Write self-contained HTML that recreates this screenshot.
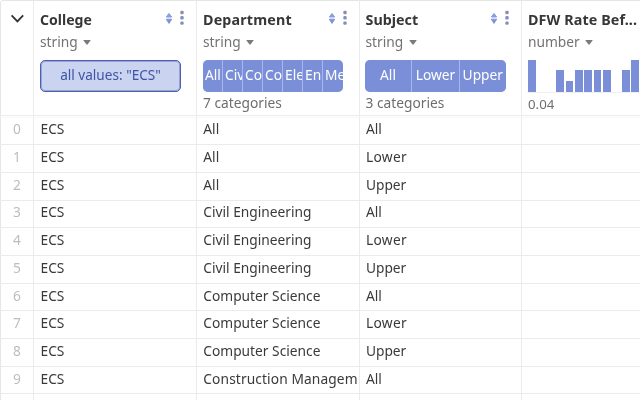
<!DOCTYPE html>
<html><head><meta charset="utf-8"><style>
*{box-sizing:border-box}
html,body{margin:0;padding:0;background:#fff}
#w{will-change:transform;position:relative;width:640px;height:400px;overflow:hidden;font-family:"Noto Sans","Liberation Sans",sans-serif;font-size:13.75px;color:#3a3a3a}
.a{position:absolute;white-space:nowrap}
.hl{position:absolute;left:0;width:640px;height:1px;background:#ebebeb}
.vl{position:absolute;top:0;width:1px;height:400px;background:#ebebeb}
.t{font-weight:700;font-size:14.3px;color:#373737;line-height:20px}
.ty{color:#727272;line-height:20px}
.ty i{display:inline-block;width:0;height:0;border-left:4.1px solid transparent;border-right:4.1px solid transparent;border-top:5px solid #7a7a7a;margin-left:5.4px;vertical-align:2.4px;border-radius:1px}
.pill{position:absolute;top:60px;height:31.6px;border:1px solid #4c5fb0;box-shadow:inset 0 0 0 1px rgba(76,95,176,0.4);background:#cad3ef;border-radius:5px;color:#3f54a8;text-align:center;line-height:27.4px;font-size:13.6px}
.bars{position:absolute;top:60px;height:31.6px;border-radius:5px;overflow:hidden;display:flex;background:#a9b7ec}
.bars div{background:#7b8fd8;color:#fff;height:100%;line-height:30.6px;text-align:center;overflow:hidden;white-space:nowrap;margin-right:1px;padding:0 2px}
.bars div:last-child{margin-right:0}
.cat{color:#6e6e6e;line-height:20px;margin-top:0.3px}
.ix{position:absolute;left:0;width:34px;text-align:center;color:#bdbdbd;line-height:20px}
.c{position:absolute;line-height:20px;white-space:nowrap;overflow:hidden}
.hb{position:absolute;background:#7b8fd8;width:7.6px}
</style></head><body><div id="w">

<!-- outer border -->
<div style="position:absolute;left:0;top:0;width:700px;height:460px;border:1px solid #e6e6e6;border-top-left-radius:3px"></div>

<!-- column lines -->
<div class="vl" style="left:33px"></div>
<div class="vl" style="left:196px"></div>
<div class="vl" style="left:359px"></div>
<div class="vl" style="left:521px"></div>

<!-- header bottom + row lines -->
<div class="hl" style="top:115px"></div>
<div class="hl" style="top:117px;background:#f7f7f7"></div>
<div class="hl" style="top:144px"></div>
<div class="hl" style="top:172px"></div>
<div class="hl" style="top:200px"></div>
<div class="hl" style="top:227px"></div>
<div class="hl" style="top:255px"></div>
<div class="hl" style="top:283px"></div>
<div class="hl" style="top:310px"></div>
<div class="hl" style="top:338px"></div>
<div class="hl" style="top:366px"></div>
<div class="hl" style="top:393px"></div>

<!-- chevron -->
<svg class="a" style="left:0;top:0" width="34" height="40"><polyline points="11.6,15.4 17.4,21.4 23.2,15.4" fill="none" stroke="#333" stroke-width="1.8"/></svg>

<!-- College header -->
<div class="a t" style="left:40px;top:10px;font-size:14.05px">College</div>
<svg class="a" style="left:160px;top:8px" width="30" height="20">
<path d="M6.3 9 L9 5.4 L11.7 9Z" fill="#889de0" stroke="#889de0" stroke-width="1" stroke-linejoin="round"/><path d="M6.3 11.2 L9 15.4 L11.7 11.2Z" fill="#7f94d8" stroke="#7f94d8" stroke-width="1" stroke-linejoin="round"/>
<rect x="20.3" y="2.8" width="3.4" height="3.4" rx="1.3" fill="#878fab"/><rect x="20.3" y="8.1" width="3.4" height="3.4" rx="1.3" fill="#8090c0"/><rect x="20.3" y="13.4" width="3.4" height="3.4" rx="1.3" fill="#878fab"/>
</svg>
<div class="a ty" style="left:40px;top:32px">string<i></i></div>
<div class="pill" style="left:40px;width:141px">all values: "ECS"</div>

<!-- Department header -->
<div class="a t" style="left:203px;top:10px;letter-spacing:0.17px">Department</div>
<svg class="a" style="left:322.6px;top:8px" width="30" height="20">
<path d="M6.3 9 L9 5.4 L11.7 9Z" fill="#889de0" stroke="#889de0" stroke-width="1" stroke-linejoin="round"/><path d="M6.3 11.2 L9 15.4 L11.7 11.2Z" fill="#7f94d8" stroke="#7f94d8" stroke-width="1" stroke-linejoin="round"/>
<rect x="20.3" y="2.8" width="3.4" height="3.4" rx="1.3" fill="#878fab"/><rect x="20.3" y="8.1" width="3.4" height="3.4" rx="1.3" fill="#8090c0"/><rect x="20.3" y="13.4" width="3.4" height="3.4" rx="1.3" fill="#878fab"/>
</svg>
<div class="a ty" style="left:203px;top:32px">string<i></i></div>
<div class="bars" style="left:203px;width:140px">
<div style="width:19px">All</div><div style="width:19px">Civ</div><div style="width:19px">Co</div><div style="width:19px">Co</div><div style="width:19px">Ele</div><div style="width:19px">En</div><div style="width:20px">Me</div>
</div>
<div class="a cat" style="left:203px;top:93px">7 categories</div>

<!-- Subject header -->
<div class="a t" style="left:365.5px;top:10px">Subject</div>
<svg class="a" style="left:485.2px;top:8px" width="30" height="20">
<path d="M6.3 9 L9 5.4 L11.7 9Z" fill="#889de0" stroke="#889de0" stroke-width="1" stroke-linejoin="round"/><path d="M6.3 11.2 L9 15.4 L11.7 11.2Z" fill="#7f94d8" stroke="#7f94d8" stroke-width="1" stroke-linejoin="round"/>
<rect x="20.3" y="2.8" width="3.4" height="3.4" rx="1.3" fill="#878fab"/><rect x="20.3" y="8.1" width="3.4" height="3.4" rx="1.3" fill="#8090c0"/><rect x="20.3" y="13.4" width="3.4" height="3.4" rx="1.3" fill="#878fab"/>
</svg>
<div class="a ty" style="left:365.5px;top:32px">string<i></i></div>
<div class="bars" style="left:365px;width:140.6px">
<div style="width:46px">All</div><div style="width:47px">Lower</div><div style="width:45.6px">Upper</div>
</div>
<div class="a cat" style="left:365.5px;top:93px">3 categories</div>

<!-- DFW header -->
<div class="a t" style="left:528px;top:10px;letter-spacing:0.1px">DFW Rate Bef...</div>
<div class="a ty" style="left:528px;top:32px">number<i></i></div>
<div class="hl" style="top:92px;left:527px;width:113px;background:#f0f0f0"></div>
<div class="hb" style="left:528px;top:60px;height:32px"></div>
<div class="hb" style="left:556.2px;top:70.4px;height:21.6px"></div>
<div class="hb" style="left:565.6px;top:81.2px;height:10.8px"></div>
<div class="hb" style="left:575px;top:70.4px;height:21.6px"></div>
<div class="hb" style="left:584.4px;top:70.4px;height:21.6px"></div>
<div class="hb" style="left:593.8px;top:70.4px;height:21.6px"></div>
<div class="hb" style="left:603.2px;top:70.4px;height:21.6px"></div>
<div class="hb" style="left:622px;top:70.4px;height:21.6px"></div>
<div class="hb" style="left:631.4px;top:60px;height:32px"></div>
<div class="a cat" style="left:528px;top:94.2px;margin-top:0;font-size:13.25px">0.04</div>

<!-- rows -->
<div class="ix" style="top:119.06px">0</div>
<div class="c" style="left:40.5px;top:119.06px;width:150px">ECS</div>
<div class="c" style="left:203.3px;top:119.06px;width:154px">All</div>
<div class="c" style="left:365.9px;top:119.06px;width:150px">All</div>
<div class="ix" style="top:146.81px">1</div>
<div class="c" style="left:40.5px;top:146.81px;width:150px">ECS</div>
<div class="c" style="left:203.3px;top:146.81px;width:154px">All</div>
<div class="c" style="left:365.9px;top:146.81px;width:150px;letter-spacing:0.35px">Lower</div>
<div class="ix" style="top:174.56px">2</div>
<div class="c" style="left:40.5px;top:174.56px;width:150px">ECS</div>
<div class="c" style="left:203.3px;top:174.56px;width:154px">All</div>
<div class="c" style="left:365.9px;top:174.56px;width:150px">Upper</div>
<div class="ix" style="top:202.31px">3</div>
<div class="c" style="left:40.5px;top:202.31px;width:150px">ECS</div>
<div class="c" style="left:203.3px;top:202.31px;width:154px">Civil Engineering</div>
<div class="c" style="left:365.9px;top:202.31px;width:150px">All</div>
<div class="ix" style="top:230.06px">4</div>
<div class="c" style="left:40.5px;top:230.06px;width:150px">ECS</div>
<div class="c" style="left:203.3px;top:230.06px;width:154px">Civil Engineering</div>
<div class="c" style="left:365.9px;top:230.06px;width:150px;letter-spacing:0.35px">Lower</div>
<div class="ix" style="top:257.81px">5</div>
<div class="c" style="left:40.5px;top:257.81px;width:150px">ECS</div>
<div class="c" style="left:203.3px;top:257.81px;width:154px">Civil Engineering</div>
<div class="c" style="left:365.9px;top:257.81px;width:150px">Upper</div>
<div class="ix" style="top:285.56px">6</div>
<div class="c" style="left:40.5px;top:285.56px;width:150px">ECS</div>
<div class="c" style="left:203.3px;top:285.56px;width:154px">Computer Science</div>
<div class="c" style="left:365.9px;top:285.56px;width:150px">All</div>
<div class="ix" style="top:313.31px">7</div>
<div class="c" style="left:40.5px;top:313.31px;width:150px">ECS</div>
<div class="c" style="left:203.3px;top:313.31px;width:154px">Computer Science</div>
<div class="c" style="left:365.9px;top:313.31px;width:150px;letter-spacing:0.35px">Lower</div>
<div class="ix" style="top:341.06px">8</div>
<div class="c" style="left:40.5px;top:341.06px;width:150px">ECS</div>
<div class="c" style="left:203.3px;top:341.06px;width:154px">Computer Science</div>
<div class="c" style="left:365.9px;top:341.06px;width:150px">Upper</div>
<div class="ix" style="top:368.81px">9</div>
<div class="c" style="left:40.5px;top:368.81px;width:150px">ECS</div>
<div class="c" style="left:203.3px;top:368.81px;width:154px;letter-spacing:0.11px">Construction Management</div>
<div class="c" style="left:365.9px;top:368.81px;width:150px">All</div>
<div class="ix" style="top:396.56px">10</div>
<div class="c" style="left:40.5px;top:396.56px;width:150px">ECS</div>
<div class="c" style="left:203.3px;top:396.56px;width:154px">Construction Management</div>
<div class="c" style="left:365.9px;top:396.56px;width:150px;letter-spacing:0.35px">Lower</div>
</div>
</body></html>
